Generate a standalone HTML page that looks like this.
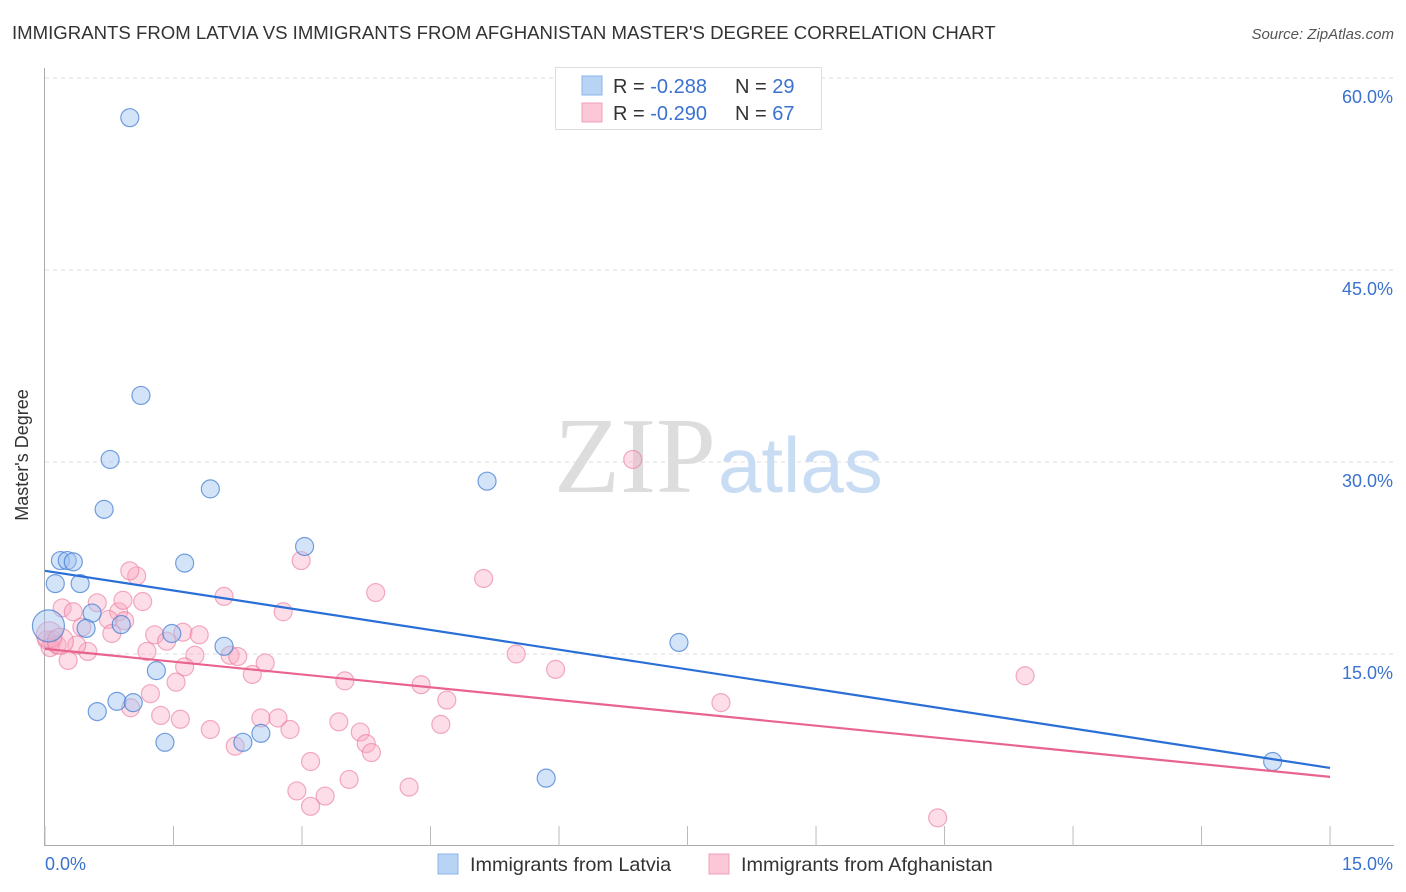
<!DOCTYPE html>
<html><head><meta charset="utf-8"><style>
body{margin:0;background:#fff;font-family:"Liberation Sans",sans-serif;}
svg{display:block}
</style></head><body>
<svg id="c" width="1406" height="892" xmlns="http://www.w3.org/2000/svg">
<text x="12" y="39" font-size="18.6" fill="#333">IMMIGRANTS FROM LATVIA VS IMMIGRANTS FROM AFGHANISTAN MASTER'S DEGREE CORRELATION CHART</text>
<text x="1394" y="39" font-size="15" fill="#555" font-style="italic" text-anchor="end">Source: ZipAtlas.com</text>
<g id="grid"></g>
<text x="716" y="492" font-size="108" fill="#ddd" text-anchor="end" font-family="Liberation Serif,serif">ZIP</text>
<text x="718" y="492" font-size="78" fill="#c8dcf3">atlas</text>
<g id="axes"></g>
<g id="pts"></g>
<g id="trend"></g>
<text x="28" y="455" font-size="18" fill="#333" text-anchor="middle" transform="rotate(-90 28 455)">Master's Degree</text>
<g>
<rect x="555.5" y="67.5" width="266" height="62" fill="#fff" stroke="#ddd"/>
<rect x="582" y="76" width="20" height="19" fill="#b8d4f5" stroke="#8ab4ea"/>
<rect x="582" y="103" width="20" height="19" fill="#fcc7d6" stroke="#f1a0b8"/>
<text x="613" y="93" font-size="20" fill="#333">R = <tspan fill="#3b72cf"> -0.288</tspan><tspan x="735">N = </tspan><tspan fill="#3b72cf">29</tspan></text>
<text x="613" y="120" font-size="20" fill="#333">R = <tspan fill="#3b72cf">-0.290</tspan><tspan x="735">N = </tspan><tspan fill="#3b72cf">67</tspan></text>
</g>
<g>
<rect x="438" y="854" width="20" height="20" fill="#b8d4f5" stroke="#8ab4ea"/>
<text x="470" y="871" font-size="19.8" fill="#333">Immigrants from Latvia</text>
<rect x="709" y="854" width="20" height="20" fill="#fcc7d6" stroke="#f1a0b8"/>
<text x="741" y="871" font-size="19.8" fill="#333">Immigrants from Afghanistan</text>
</g>
</svg>
<script>
const yTicks=[15,30,45,60];
const yTickLabels=["15.0%","30.0%","45.0%","60.0%"];
const xTickVals=[0,1.5,3,4.5,6,7.5,9,10.5,12,13.5,15];
const latviaX=[0.99,1.12,0.76,0.69,1.93,5.16,0.18,0.26,0.33,1.63,3.03,0.12,0.41,0.55,0.48,0.89,0.04,1.48,2.09,7.40,1.30,0.84,1.03,0.61,1.40,2.31,2.52,5.85,14.33];
const latviaY=[56.9,35.2,30.2,26.3,27.9,28.5,22.3,22.3,22.2,22.1,23.4,20.5,20.5,18.2,17.0,17.3,17.2,16.6,15.6,15.9,13.7,11.3,11.2,10.5,8.1,8.1,8.8,5.3,6.6];
const afgX=[6.86,2.09,3.86,5.12,2.99,1.07,0.99,0.20,0.33,0.61,0.86,0.91,1.14,0.74,0.93,1.28,1.61,1.42,1.80,0.43,0.50,0.78,0.09,0.14,0.02,0.06,0.37,0.27,1.19,1.75,2.16,2.25,2.57,2.42,1.63,1.53,2.78,5.50,5.96,3.50,4.39,4.69,7.89,11.44,1.23,1.00,1.35,1.58,1.93,2.22,2.52,2.72,2.86,3.43,3.68,3.75,3.81,4.62,3.10,3.55,4.25,2.94,3.27,3.10,10.42,0.05,0.18];
const afgY=[30.2,19.5,19.8,20.9,22.3,21.1,21.5,18.6,18.3,19.0,18.3,19.2,19.1,17.7,17.6,16.5,16.7,16.0,16.5,17.1,15.2,16.6,16.1,15.7,16.1,15.5,15.7,14.5,15.2,14.9,14.9,14.8,14.3,13.4,14.0,12.8,18.3,15.0,13.8,12.9,12.6,11.4,11.2,13.3,11.9,10.8,10.2,9.9,9.1,7.8,10.0,10.0,9.1,9.7,8.9,8.0,7.3,9.5,6.6,5.2,4.6,4.3,3.9,3.1,2.2,16.5,16.0];
const latviaTrend=[21.5,6.1];
const afgTrend=[15.4,5.4];
const NS="http://www.w3.org/2000/svg";
const X=v=>45+v*85.67, Y=v=>846-v*12.8;
function mk(t,a,p){const e=document.createElementNS(NS,t);for(const k in a)e.setAttribute(k,a[k]);p.appendChild(e);return e;}
const grid=document.getElementById('grid'),axes=document.getElementById('axes'),pts=document.getElementById('pts'),tr=document.getElementById('trend');
yTicks.forEach((v,i)=>{
 const l=mk('line',{x1:45,x2:1394,y1:Y(v),y2:Y(v),stroke:'#ddd','stroke-dasharray':'4,4'},grid);
 
 
 const t=mk('text',{x:1393,y:Y(v)+25,'font-size':18,fill:'#3b72cf','text-anchor':'end'},axes);
 t.textContent=yTickLabels[i];
 
 
});
mk('line',{x1:44.5,x2:44.5,y1:68,y2:846,stroke:'#aaa'},axes);
mk('line',{x1:44,x2:1394,y1:845.5,y2:845.5,stroke:'#aaa'},axes);
xTickVals.forEach(v=>{
 const l=mk('line',{x1:X(v),x2:X(v),y1:826,y2:846,stroke:'#bbb'},axes);
 
 
});
let t=mk('text',{x:45,y:870,'font-size':18,fill:'#3b72cf'},axes);t.textContent='0.0%';


t=mk('text',{x:1393,y:870,'font-size':18,fill:'#3b72cf','text-anchor':'end'},axes);t.textContent='15.0%';


afgX.forEach((x,i)=>{
 const c=mk('circle',{cx:X(x),cy:Y(afgY[i]),r:(i>=65?13:9),fill:'rgba(249,170,195,0.4)',stroke:'rgba(233,120,155,0.6)','stroke-width':1.2},pts);
 
 
});
latviaX.forEach((x,i)=>{
 const c=mk('circle',{cx:X(x),cy:Y(latviaY[i]),r:(i==16?16:9),fill:'rgba(160,196,240,0.45)',stroke:'rgba(60,120,210,0.7)','stroke-width':1.2},pts);
 
 
});
let l=mk('line',{x1:X(0),x2:X(15),y1:Y(latviaTrend[0]),y2:Y(latviaTrend[1]),stroke:'#2a6fd6','stroke-width':2.2},tr);


l=mk('line',{x1:X(0),x2:X(15),y1:Y(afgTrend[0]),y2:Y(afgTrend[1]),stroke:'#e8648f','stroke-width':2.2},tr);


</script>
</body></html>
